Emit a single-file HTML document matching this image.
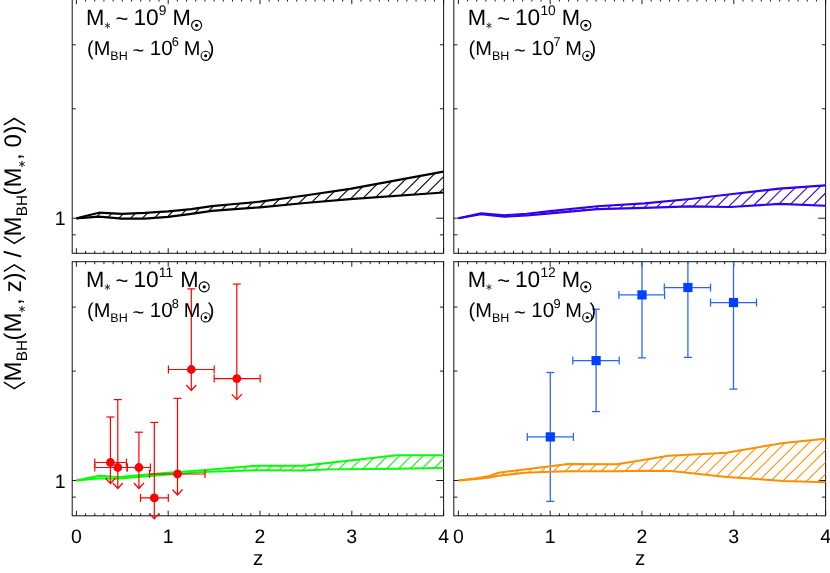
<!DOCTYPE html>
<html><head><meta charset="utf-8"><title>fig</title>
<style>html,body{margin:0;padding:0;background:#fff;width:830px;height:573px;overflow:hidden}</style></head>
<body>
<svg width="830" height="573" viewBox="0 0 830 573" style="position:absolute;left:0;top:0;will-change:transform;text-rendering:geometricPrecision">
<rect width="830" height="573" fill="#fff"/>
<g stroke="#111" stroke-width="1.0" fill="none">
<rect x="72.2" y="-0.9" width="371.4" height="254.2"/>
<path d="M76.40 253.3v-5.1M76.40 -0.9v5.1M85.58 253.3v-2.5M85.58 -0.9v2.5M94.76 253.3v-2.5M94.76 -0.9v2.5M103.94 253.3v-2.5M103.94 -0.9v2.5M113.12 253.3v-2.5M113.12 -0.9v2.5M122.30 253.3v-2.5M122.30 -0.9v2.5M131.48 253.3v-2.5M131.48 -0.9v2.5M140.66 253.3v-2.5M140.66 -0.9v2.5M149.84 253.3v-2.5M149.84 -0.9v2.5M159.02 253.3v-2.5M159.02 -0.9v2.5M168.20 253.3v-5.1M168.20 -0.9v5.1M177.38 253.3v-2.5M177.38 -0.9v2.5M186.56 253.3v-2.5M186.56 -0.9v2.5M195.74 253.3v-2.5M195.74 -0.9v2.5M204.92 253.3v-2.5M204.92 -0.9v2.5M214.10 253.3v-2.5M214.10 -0.9v2.5M223.28 253.3v-2.5M223.28 -0.9v2.5M232.46 253.3v-2.5M232.46 -0.9v2.5M241.64 253.3v-2.5M241.64 -0.9v2.5M250.82 253.3v-2.5M250.82 -0.9v2.5M260.00 253.3v-5.1M260.00 -0.9v5.1M269.18 253.3v-2.5M269.18 -0.9v2.5M278.36 253.3v-2.5M278.36 -0.9v2.5M287.54 253.3v-2.5M287.54 -0.9v2.5M296.72 253.3v-2.5M296.72 -0.9v2.5M305.90 253.3v-2.5M305.90 -0.9v2.5M315.08 253.3v-2.5M315.08 -0.9v2.5M324.26 253.3v-2.5M324.26 -0.9v2.5M333.44 253.3v-2.5M333.44 -0.9v2.5M342.62 253.3v-2.5M342.62 -0.9v2.5M351.80 253.3v-5.1M351.80 -0.9v5.1M360.98 253.3v-2.5M360.98 -0.9v2.5M370.16 253.3v-2.5M370.16 -0.9v2.5M379.34 253.3v-2.5M379.34 -0.9v2.5M388.52 253.3v-2.5M388.52 -0.9v2.5M397.70 253.3v-2.5M397.70 -0.9v2.5M406.88 253.3v-2.5M406.88 -0.9v2.5M416.06 253.3v-2.5M416.06 -0.9v2.5M425.24 253.3v-2.5M425.24 -0.9v2.5M434.42 253.3v-2.5M434.42 -0.9v2.5M443.60 253.3v-5.1M443.60 -0.9v5.1M72.2 234.83h3.7M443.6 234.83h-3.7M72.2 218.20h7.4M443.6 218.20h-7.4M72.2 108.78h3.7M443.6 108.78h-3.7M72.2 44.77h3.7M443.6 44.77h-3.7" stroke-width="0.95"/>
<rect x="72.2" y="261.7" width="371.4" height="254.1"/>
<path d="M76.40 515.8v-5.1M76.40 261.7v5.1M85.58 515.8v-2.5M85.58 261.7v2.5M94.76 515.8v-2.5M94.76 261.7v2.5M103.94 515.8v-2.5M103.94 261.7v2.5M113.12 515.8v-2.5M113.12 261.7v2.5M122.30 515.8v-2.5M122.30 261.7v2.5M131.48 515.8v-2.5M131.48 261.7v2.5M140.66 515.8v-2.5M140.66 261.7v2.5M149.84 515.8v-2.5M149.84 261.7v2.5M159.02 515.8v-2.5M159.02 261.7v2.5M168.20 515.8v-5.1M168.20 261.7v5.1M177.38 515.8v-2.5M177.38 261.7v2.5M186.56 515.8v-2.5M186.56 261.7v2.5M195.74 515.8v-2.5M195.74 261.7v2.5M204.92 515.8v-2.5M204.92 261.7v2.5M214.10 515.8v-2.5M214.10 261.7v2.5M223.28 515.8v-2.5M223.28 261.7v2.5M232.46 515.8v-2.5M232.46 261.7v2.5M241.64 515.8v-2.5M241.64 261.7v2.5M250.82 515.8v-2.5M250.82 261.7v2.5M260.00 515.8v-5.1M260.00 261.7v5.1M269.18 515.8v-2.5M269.18 261.7v2.5M278.36 515.8v-2.5M278.36 261.7v2.5M287.54 515.8v-2.5M287.54 261.7v2.5M296.72 515.8v-2.5M296.72 261.7v2.5M305.90 515.8v-2.5M305.90 261.7v2.5M315.08 515.8v-2.5M315.08 261.7v2.5M324.26 515.8v-2.5M324.26 261.7v2.5M333.44 515.8v-2.5M333.44 261.7v2.5M342.62 515.8v-2.5M342.62 261.7v2.5M351.80 515.8v-5.1M351.80 261.7v5.1M360.98 515.8v-2.5M360.98 261.7v2.5M370.16 515.8v-2.5M370.16 261.7v2.5M379.34 515.8v-2.5M379.34 261.7v2.5M388.52 515.8v-2.5M388.52 261.7v2.5M397.70 515.8v-2.5M397.70 261.7v2.5M406.88 515.8v-2.5M406.88 261.7v2.5M416.06 515.8v-2.5M416.06 261.7v2.5M425.24 515.8v-2.5M425.24 261.7v2.5M434.42 515.8v-2.5M434.42 261.7v2.5M443.60 515.8v-5.1M443.60 261.7v5.1M72.2 497.13h3.7M443.6 497.13h-3.7M72.2 480.50h7.4M443.6 480.50h-7.4M72.2 371.08h3.7M443.6 371.08h-3.7M72.2 307.07h3.7M443.6 307.07h-3.7" stroke-width="0.95"/>
<rect x="453.8" y="-0.9" width="371.8" height="254.2"/>
<path d="M458.40 253.3v-5.1M458.40 -0.9v5.1M467.58 253.3v-2.5M467.58 -0.9v2.5M476.76 253.3v-2.5M476.76 -0.9v2.5M485.94 253.3v-2.5M485.94 -0.9v2.5M495.12 253.3v-2.5M495.12 -0.9v2.5M504.30 253.3v-2.5M504.30 -0.9v2.5M513.48 253.3v-2.5M513.48 -0.9v2.5M522.66 253.3v-2.5M522.66 -0.9v2.5M531.84 253.3v-2.5M531.84 -0.9v2.5M541.02 253.3v-2.5M541.02 -0.9v2.5M550.20 253.3v-5.1M550.20 -0.9v5.1M559.38 253.3v-2.5M559.38 -0.9v2.5M568.56 253.3v-2.5M568.56 -0.9v2.5M577.74 253.3v-2.5M577.74 -0.9v2.5M586.92 253.3v-2.5M586.92 -0.9v2.5M596.10 253.3v-2.5M596.10 -0.9v2.5M605.28 253.3v-2.5M605.28 -0.9v2.5M614.46 253.3v-2.5M614.46 -0.9v2.5M623.64 253.3v-2.5M623.64 -0.9v2.5M632.82 253.3v-2.5M632.82 -0.9v2.5M642.00 253.3v-5.1M642.00 -0.9v5.1M651.18 253.3v-2.5M651.18 -0.9v2.5M660.36 253.3v-2.5M660.36 -0.9v2.5M669.54 253.3v-2.5M669.54 -0.9v2.5M678.72 253.3v-2.5M678.72 -0.9v2.5M687.90 253.3v-2.5M687.90 -0.9v2.5M697.08 253.3v-2.5M697.08 -0.9v2.5M706.26 253.3v-2.5M706.26 -0.9v2.5M715.44 253.3v-2.5M715.44 -0.9v2.5M724.62 253.3v-2.5M724.62 -0.9v2.5M733.80 253.3v-5.1M733.80 -0.9v5.1M742.98 253.3v-2.5M742.98 -0.9v2.5M752.16 253.3v-2.5M752.16 -0.9v2.5M761.34 253.3v-2.5M761.34 -0.9v2.5M770.52 253.3v-2.5M770.52 -0.9v2.5M779.70 253.3v-2.5M779.70 -0.9v2.5M788.88 253.3v-2.5M788.88 -0.9v2.5M798.06 253.3v-2.5M798.06 -0.9v2.5M807.24 253.3v-2.5M807.24 -0.9v2.5M816.42 253.3v-2.5M816.42 -0.9v2.5M825.60 253.3v-5.1M825.60 -0.9v5.1M453.8 234.83h3.7M825.6 234.83h-3.7M453.8 218.20h7.4M825.6 218.20h-7.4M453.8 108.78h3.7M825.6 108.78h-3.7M453.8 44.77h3.7M825.6 44.77h-3.7" stroke-width="0.95"/>
<rect x="453.8" y="261.7" width="371.8" height="254.1"/>
<path d="M458.40 515.8v-5.1M458.40 261.7v5.1M467.58 515.8v-2.5M467.58 261.7v2.5M476.76 515.8v-2.5M476.76 261.7v2.5M485.94 515.8v-2.5M485.94 261.7v2.5M495.12 515.8v-2.5M495.12 261.7v2.5M504.30 515.8v-2.5M504.30 261.7v2.5M513.48 515.8v-2.5M513.48 261.7v2.5M522.66 515.8v-2.5M522.66 261.7v2.5M531.84 515.8v-2.5M531.84 261.7v2.5M541.02 515.8v-2.5M541.02 261.7v2.5M550.20 515.8v-5.1M550.20 261.7v5.1M559.38 515.8v-2.5M559.38 261.7v2.5M568.56 515.8v-2.5M568.56 261.7v2.5M577.74 515.8v-2.5M577.74 261.7v2.5M586.92 515.8v-2.5M586.92 261.7v2.5M596.10 515.8v-2.5M596.10 261.7v2.5M605.28 515.8v-2.5M605.28 261.7v2.5M614.46 515.8v-2.5M614.46 261.7v2.5M623.64 515.8v-2.5M623.64 261.7v2.5M632.82 515.8v-2.5M632.82 261.7v2.5M642.00 515.8v-5.1M642.00 261.7v5.1M651.18 515.8v-2.5M651.18 261.7v2.5M660.36 515.8v-2.5M660.36 261.7v2.5M669.54 515.8v-2.5M669.54 261.7v2.5M678.72 515.8v-2.5M678.72 261.7v2.5M687.90 515.8v-2.5M687.90 261.7v2.5M697.08 515.8v-2.5M697.08 261.7v2.5M706.26 515.8v-2.5M706.26 261.7v2.5M715.44 515.8v-2.5M715.44 261.7v2.5M724.62 515.8v-2.5M724.62 261.7v2.5M733.80 515.8v-5.1M733.80 261.7v5.1M742.98 515.8v-2.5M742.98 261.7v2.5M752.16 515.8v-2.5M752.16 261.7v2.5M761.34 515.8v-2.5M761.34 261.7v2.5M770.52 515.8v-2.5M770.52 261.7v2.5M779.70 515.8v-2.5M779.70 261.7v2.5M788.88 515.8v-2.5M788.88 261.7v2.5M798.06 515.8v-2.5M798.06 261.7v2.5M807.24 515.8v-2.5M807.24 261.7v2.5M816.42 515.8v-2.5M816.42 261.7v2.5M825.60 515.8v-5.1M825.60 261.7v5.1M453.8 497.13h3.7M825.6 497.13h-3.7M453.8 480.50h7.4M825.6 480.50h-7.4M453.8 371.08h3.7M825.6 371.08h-3.7M453.8 307.07h3.7M825.6 307.07h-3.7" stroke-width="0.95"/>
</g>
<clipPath id="cb"><polygon points="76.4,218.3 98.9,212.7 121.8,213.9 144.7,212.9 168.2,211.3 191.3,209.1 211.8,206.1 234.8,204.0 260.0,201.7 305.0,195.5 350.0,188.9 443.5,171.6 443.5,192.5 350.0,199.1 305.0,203.0 260.0,207.3 234.8,209.2 211.8,210.9 191.3,213.8 168.2,216.8 144.7,218.7 121.8,218.7 98.9,216.7 76.4,218.3"/></clipPath>
<g clip-path="url(#cb)" stroke="#000000" stroke-width="1.1" fill="none">
<line x1="-333.80" y1="600" x2="316.20" y2="-50"/>
<line x1="-322.00" y1="600" x2="328.00" y2="-50"/>
<line x1="-310.20" y1="600" x2="339.80" y2="-50"/>
<line x1="-298.40" y1="600" x2="351.60" y2="-50"/>
<line x1="-286.60" y1="600" x2="363.40" y2="-50"/>
<line x1="-274.80" y1="600" x2="375.20" y2="-50"/>
<line x1="-263.00" y1="600" x2="387.00" y2="-50"/>
<line x1="-251.20" y1="600" x2="398.80" y2="-50"/>
<line x1="-239.40" y1="600" x2="410.60" y2="-50"/>
<line x1="-227.60" y1="600" x2="422.40" y2="-50"/>
<line x1="-215.80" y1="600" x2="434.20" y2="-50"/>
<line x1="-204.00" y1="600" x2="446.00" y2="-50"/>
<line x1="-192.20" y1="600" x2="457.80" y2="-50"/>
<line x1="-180.40" y1="600" x2="469.60" y2="-50"/>
<line x1="-168.60" y1="600" x2="481.40" y2="-50"/>
<line x1="-156.80" y1="600" x2="493.20" y2="-50"/>
<line x1="-145.00" y1="600" x2="505.00" y2="-50"/>
<line x1="-133.20" y1="600" x2="516.80" y2="-50"/>
<line x1="-121.40" y1="600" x2="528.60" y2="-50"/>
<line x1="-109.60" y1="600" x2="540.40" y2="-50"/>
<line x1="-97.80" y1="600" x2="552.20" y2="-50"/>
<line x1="-86.00" y1="600" x2="564.00" y2="-50"/>
<line x1="-74.20" y1="600" x2="575.80" y2="-50"/>
<line x1="-62.40" y1="600" x2="587.60" y2="-50"/>
<line x1="-50.60" y1="600" x2="599.40" y2="-50"/>
<line x1="-38.80" y1="600" x2="611.20" y2="-50"/>
<line x1="-27.00" y1="600" x2="623.00" y2="-50"/>
<line x1="-15.20" y1="600" x2="634.80" y2="-50"/>
<line x1="-3.40" y1="600" x2="646.60" y2="-50"/>
<line x1="8.40" y1="600" x2="658.40" y2="-50"/>
<line x1="20.20" y1="600" x2="670.20" y2="-50"/>
<line x1="32.00" y1="600" x2="682.00" y2="-50"/>
<line x1="43.80" y1="600" x2="693.80" y2="-50"/>
<line x1="55.60" y1="600" x2="705.60" y2="-50"/>
<line x1="67.40" y1="600" x2="717.40" y2="-50"/>
</g>
<polyline points="76.4,218.3 98.9,212.7 121.8,213.9 144.7,212.9 168.2,211.3 191.3,209.1 211.8,206.1 234.8,204.0 260.0,201.7 305.0,195.5 350.0,188.9 443.5,171.6" fill="none" stroke="#000000" stroke-width="2.2" stroke-linejoin="round" stroke-linecap="butt"/>
<polyline points="76.4,218.3 98.9,216.7 121.8,218.7 144.7,218.7 168.2,216.8 191.3,213.8 211.8,210.9 234.8,209.2 260.0,207.3 305.0,203.0 350.0,199.1 443.5,192.5" fill="none" stroke="#000000" stroke-width="2.2" stroke-linejoin="round" stroke-linecap="butt"/>
<clipPath id="cv"><polygon points="458.4,218.3 481.1,213.4 504.3,215.2 527.0,213.7 550.0,211.1 597.2,206.3 644.4,203.4 690.0,199.0 730.6,194.3 779.4,188.6 825.5,185.4 825.5,205.7 779.4,203.9 730.6,207.0 690.0,206.4 644.4,207.9 597.2,209.1 550.0,213.4 527.0,215.5 504.3,216.7 481.1,214.3 458.4,218.3"/></clipPath>
<g clip-path="url(#cv)" stroke="#3000f0" stroke-width="1.1" fill="none">
<line x1="49.70" y1="600" x2="699.70" y2="-50"/>
<line x1="61.60" y1="600" x2="711.60" y2="-50"/>
<line x1="73.50" y1="600" x2="723.50" y2="-50"/>
<line x1="85.40" y1="600" x2="735.40" y2="-50"/>
<line x1="97.30" y1="600" x2="747.30" y2="-50"/>
<line x1="109.20" y1="600" x2="759.20" y2="-50"/>
<line x1="121.10" y1="600" x2="771.10" y2="-50"/>
<line x1="133.00" y1="600" x2="783.00" y2="-50"/>
<line x1="144.90" y1="600" x2="794.90" y2="-50"/>
<line x1="156.80" y1="600" x2="806.80" y2="-50"/>
<line x1="168.70" y1="600" x2="818.70" y2="-50"/>
<line x1="180.60" y1="600" x2="830.60" y2="-50"/>
<line x1="192.50" y1="600" x2="842.50" y2="-50"/>
<line x1="204.40" y1="600" x2="854.40" y2="-50"/>
<line x1="216.30" y1="600" x2="866.30" y2="-50"/>
<line x1="228.20" y1="600" x2="878.20" y2="-50"/>
<line x1="240.10" y1="600" x2="890.10" y2="-50"/>
<line x1="252.00" y1="600" x2="902.00" y2="-50"/>
<line x1="263.90" y1="600" x2="913.90" y2="-50"/>
<line x1="275.80" y1="600" x2="925.80" y2="-50"/>
<line x1="287.70" y1="600" x2="937.70" y2="-50"/>
<line x1="299.60" y1="600" x2="949.60" y2="-50"/>
<line x1="311.50" y1="600" x2="961.50" y2="-50"/>
<line x1="323.40" y1="600" x2="973.40" y2="-50"/>
<line x1="335.30" y1="600" x2="985.30" y2="-50"/>
<line x1="347.20" y1="600" x2="997.20" y2="-50"/>
<line x1="359.10" y1="600" x2="1009.10" y2="-50"/>
<line x1="371.00" y1="600" x2="1021.00" y2="-50"/>
<line x1="382.90" y1="600" x2="1032.90" y2="-50"/>
<line x1="394.80" y1="600" x2="1044.80" y2="-50"/>
<line x1="406.70" y1="600" x2="1056.70" y2="-50"/>
<line x1="418.60" y1="600" x2="1068.60" y2="-50"/>
<line x1="430.50" y1="600" x2="1080.50" y2="-50"/>
<line x1="442.40" y1="600" x2="1092.40" y2="-50"/>
<line x1="454.30" y1="600" x2="1104.30" y2="-50"/>
</g>
<polyline points="458.4,218.3 481.1,213.4 504.3,215.2 527.0,213.7 550.0,211.1 597.2,206.3 644.4,203.4 690.0,199.0 730.6,194.3 779.4,188.6 825.5,185.4" fill="none" stroke="#3000f0" stroke-width="2.1" stroke-linejoin="round" stroke-linecap="butt"/>
<polyline points="458.4,218.3 481.1,214.3 504.3,216.7 527.0,215.5 550.0,213.4 597.2,209.1 644.4,207.9 690.0,206.4 730.6,207.0 779.4,203.9 825.5,205.7" fill="none" stroke="#3000f0" stroke-width="2.1" stroke-linejoin="round" stroke-linecap="butt"/>
<clipPath id="cg"><polygon points="76.4,480.5 99.4,475.8 116.0,476.9 122.0,476.6 168.0,472.8 200.0,470.4 256.4,465.8 303.4,465.8 330.0,462.7 396.7,455.2 443.7,455.2 443.7,467.9 396.7,468.7 330.0,469.4 303.4,470.5 256.4,470.2 200.0,472.1 168.0,474.5 122.0,478.3 116.0,478.7 99.4,478.4 76.4,480.5"/></clipPath>
<g clip-path="url(#cg)" stroke="#00ff00" stroke-width="1.05" fill="none">
<line x1="-63.30" y1="600" x2="586.70" y2="-50"/>
<line x1="-51.50" y1="600" x2="598.50" y2="-50"/>
<line x1="-39.70" y1="600" x2="610.30" y2="-50"/>
<line x1="-27.90" y1="600" x2="622.10" y2="-50"/>
<line x1="-16.10" y1="600" x2="633.90" y2="-50"/>
<line x1="-4.30" y1="600" x2="645.70" y2="-50"/>
<line x1="7.50" y1="600" x2="657.50" y2="-50"/>
<line x1="19.30" y1="600" x2="669.30" y2="-50"/>
<line x1="31.10" y1="600" x2="681.10" y2="-50"/>
<line x1="42.90" y1="600" x2="692.90" y2="-50"/>
<line x1="54.70" y1="600" x2="704.70" y2="-50"/>
<line x1="66.50" y1="600" x2="716.50" y2="-50"/>
<line x1="78.30" y1="600" x2="728.30" y2="-50"/>
<line x1="90.10" y1="600" x2="740.10" y2="-50"/>
<line x1="101.90" y1="600" x2="751.90" y2="-50"/>
<line x1="113.70" y1="600" x2="763.70" y2="-50"/>
<line x1="125.50" y1="600" x2="775.50" y2="-50"/>
<line x1="137.30" y1="600" x2="787.30" y2="-50"/>
<line x1="149.10" y1="600" x2="799.10" y2="-50"/>
<line x1="160.90" y1="600" x2="810.90" y2="-50"/>
<line x1="172.70" y1="600" x2="822.70" y2="-50"/>
<line x1="184.50" y1="600" x2="834.50" y2="-50"/>
<line x1="196.30" y1="600" x2="846.30" y2="-50"/>
<line x1="208.10" y1="600" x2="858.10" y2="-50"/>
<line x1="219.90" y1="600" x2="869.90" y2="-50"/>
<line x1="231.70" y1="600" x2="881.70" y2="-50"/>
<line x1="243.50" y1="600" x2="893.50" y2="-50"/>
<line x1="255.30" y1="600" x2="905.30" y2="-50"/>
<line x1="267.10" y1="600" x2="917.10" y2="-50"/>
<line x1="278.90" y1="600" x2="928.90" y2="-50"/>
<line x1="290.70" y1="600" x2="940.70" y2="-50"/>
<line x1="302.50" y1="600" x2="952.50" y2="-50"/>
<line x1="314.30" y1="600" x2="964.30" y2="-50"/>
<line x1="326.10" y1="600" x2="976.10" y2="-50"/>
<line x1="337.90" y1="600" x2="987.90" y2="-50"/>
</g>
<polyline points="76.4,480.5 99.4,475.8 116.0,476.9 122.0,476.6 168.0,472.8 200.0,470.4 256.4,465.8 303.4,465.8 330.0,462.7 396.7,455.2 443.7,455.2" fill="none" stroke="#00ff00" stroke-width="1.95" stroke-linejoin="round" stroke-linecap="butt"/>
<polyline points="76.4,480.5 99.4,478.4 116.0,478.7 122.0,478.3 168.0,474.5 200.0,472.1 256.4,470.2 303.4,470.5 330.0,469.4 396.7,468.7 443.7,467.9" fill="none" stroke="#00ff00" stroke-width="1.95" stroke-linejoin="round" stroke-linecap="butt"/>
<g stroke="#ff0000" stroke-width="1.2" fill="none">
<path d="M94.8 462.5H126.4M94.8 458.5V466.5M126.4 458.5V466.5"/>
<path d="M110.4 462.5V417.0"/>
<path d="M106.4 417.0H114.4"/>
<path d="M110.4 462.5V483.5M105.4 478.0L110.4 483.5L115.4 478.0"/>
<path d="M94.8 467.5H127.2M94.8 463.5V471.5M127.2 463.5V471.5"/>
<path d="M117.8 467.5V399.6"/>
<path d="M113.8 399.6H121.8"/>
<path d="M117.8 467.5V488.5M112.8 483.0L117.8 488.5L122.8 483.0"/>
<path d="M127.2 467.5H150.4M127.2 463.5V471.5M150.4 463.5V471.5"/>
<path d="M138.9 467.5V432.2"/>
<path d="M134.9 432.2H142.9"/>
<path d="M138.9 467.5V488.5M133.9 483.0L138.9 488.5L143.9 483.0"/>
<path d="M140.5 497.9H168.3M140.5 493.9V501.9M168.3 493.9V501.9"/>
<path d="M154.3 497.9V422.4"/>
<path d="M150.3 422.4H158.3"/>
<path d="M154.3 497.9V518.9M149.3 513.4L154.3 518.9L159.3 513.4"/>
<path d="M149.5 474.0H205.0M149.5 470.0V478.0M205.0 470.0V478.0"/>
<path d="M177.5 474.0V398.3"/>
<path d="M173.5 398.3H181.5"/>
<path d="M177.5 474.0V495.0M172.5 489.5L177.5 495.0L182.5 489.5"/>
<path d="M168.4 369.5H214.2M168.4 365.5V373.5M214.2 365.5V373.5"/>
<path d="M191.3 369.5V288.9"/>
<path d="M187.3 288.9H195.3"/>
<path d="M191.3 369.5V390.5M186.3 385.0L191.3 390.5L196.3 385.0"/>
<path d="M214.2 378.6H260.2M214.2 374.6V382.6M260.2 374.6V382.6"/>
<path d="M236.8 378.6V284.1"/>
<path d="M232.8 284.1H240.8"/>
<path d="M236.8 378.6V399.6M231.8 394.1L236.8 399.6L241.8 394.1"/>
</g>
<circle cx="110.4" cy="462.5" r="4.4" fill="#ff0000"/>
<circle cx="117.8" cy="467.5" r="4.4" fill="#ff0000"/>
<circle cx="138.9" cy="467.5" r="4.4" fill="#ff0000"/>
<circle cx="154.3" cy="497.9" r="4.4" fill="#ff0000"/>
<circle cx="177.5" cy="474.0" r="4.4" fill="#ff0000"/>
<circle cx="191.3" cy="369.5" r="4.4" fill="#ff0000"/>
<circle cx="236.8" cy="378.6" r="4.4" fill="#ff0000"/>
<g stroke="#2a62ff" stroke-width="1.25" fill="none">
<path d="M527.3 436.9H573.4M527.3 432.9V440.9M573.4 432.9V440.9"/>
<path d="M550.3 436.9V372.5"/>
<path d="M546.3 372.5H554.3"/>
<path d="M550.3 436.9V501.4M546.3 501.4H554.3"/>
<path d="M572.8 360.6H619.2M572.8 356.6V364.6M619.2 356.6V364.6"/>
<path d="M596.1 360.6V309.2"/>
<path d="M592.1 309.2H600.1"/>
<path d="M596.1 360.6V411.6M592.1 411.6H600.1"/>
<path d="M618.9 294.9H664.6M618.9 290.9V298.9M664.6 290.9V298.9"/>
<path d="M642.0 294.9V261.7"/>
<path d="M642.0 294.9V357.8M638.0 357.8H646.0"/>
<path d="M664.3 287.5H710.5M664.3 283.5V291.5M710.5 283.5V291.5"/>
<path d="M687.9 287.5V261.7"/>
<path d="M687.9 287.5V357.4M683.9 357.4H691.9"/>
<path d="M710.5 302.5H756.5M710.5 298.5V306.5M756.5 298.5V306.5"/>
<path d="M733.5 302.5V261.7"/>
<path d="M733.5 302.5V389.1M729.5 389.1H737.5"/>
</g>
<clipPath id="co"><polygon points="458.6,480.4 476.7,478.2 489.7,476.0 498.4,472.8 524.4,469.5 550.4,466.2 567.8,464.0 617.1,464.3 640.0,460.6 668.6,455.7 726.4,452.7 783.6,442.9 825.5,438.7 825.5,482.3 783.6,480.9 726.4,477.0 671.0,471.1 640.0,470.8 617.1,471.2 567.8,471.3 550.4,471.7 524.4,472.8 498.4,475.7 489.7,477.5 476.7,478.9 458.6,480.4"/></clipPath>
<g clip-path="url(#co)" stroke="#ff8f00" stroke-width="1.05" fill="none">
<line x1="317.20" y1="600" x2="967.20" y2="-50"/>
<line x1="329.15" y1="600" x2="979.15" y2="-50"/>
<line x1="341.10" y1="600" x2="991.10" y2="-50"/>
<line x1="353.05" y1="600" x2="1003.05" y2="-50"/>
<line x1="365.00" y1="600" x2="1015.00" y2="-50"/>
<line x1="376.95" y1="600" x2="1026.95" y2="-50"/>
<line x1="388.90" y1="600" x2="1038.90" y2="-50"/>
<line x1="400.85" y1="600" x2="1050.85" y2="-50"/>
<line x1="412.80" y1="600" x2="1062.80" y2="-50"/>
<line x1="424.75" y1="600" x2="1074.75" y2="-50"/>
<line x1="436.70" y1="600" x2="1086.70" y2="-50"/>
<line x1="448.65" y1="600" x2="1098.65" y2="-50"/>
<line x1="460.60" y1="600" x2="1110.60" y2="-50"/>
<line x1="472.55" y1="600" x2="1122.55" y2="-50"/>
<line x1="484.50" y1="600" x2="1134.50" y2="-50"/>
<line x1="496.45" y1="600" x2="1146.45" y2="-50"/>
<line x1="508.40" y1="600" x2="1158.40" y2="-50"/>
<line x1="520.35" y1="600" x2="1170.35" y2="-50"/>
<line x1="532.30" y1="600" x2="1182.30" y2="-50"/>
<line x1="544.25" y1="600" x2="1194.25" y2="-50"/>
<line x1="556.20" y1="600" x2="1206.20" y2="-50"/>
<line x1="568.15" y1="600" x2="1218.15" y2="-50"/>
<line x1="580.10" y1="600" x2="1230.10" y2="-50"/>
<line x1="592.05" y1="600" x2="1242.05" y2="-50"/>
<line x1="604.00" y1="600" x2="1254.00" y2="-50"/>
<line x1="615.95" y1="600" x2="1265.95" y2="-50"/>
<line x1="627.90" y1="600" x2="1277.90" y2="-50"/>
<line x1="639.85" y1="600" x2="1289.85" y2="-50"/>
<line x1="651.80" y1="600" x2="1301.80" y2="-50"/>
<line x1="663.75" y1="600" x2="1313.75" y2="-50"/>
<line x1="675.70" y1="600" x2="1325.70" y2="-50"/>
<line x1="687.65" y1="600" x2="1337.65" y2="-50"/>
<line x1="699.60" y1="600" x2="1349.60" y2="-50"/>
<line x1="711.55" y1="600" x2="1361.55" y2="-50"/>
<line x1="723.50" y1="600" x2="1373.50" y2="-50"/>
<line x1="735.45" y1="600" x2="1385.45" y2="-50"/>
</g>
<polyline points="458.6,480.4 476.7,478.2 489.7,476.0 498.4,472.8 524.4,469.5 550.4,466.2 567.8,464.0 617.1,464.3 640.0,460.6 668.6,455.7 726.4,452.7 783.6,442.9 825.5,438.7" fill="none" stroke="#ff8f00" stroke-width="2.0" stroke-linejoin="round" stroke-linecap="butt"/>
<polyline points="458.6,480.4 476.7,478.9 489.7,477.5 498.4,475.7 524.4,472.8 550.4,471.7 567.8,471.3 617.1,471.2 640.0,470.8 671.0,471.1 726.4,477.0 783.6,480.9 825.5,482.3" fill="none" stroke="#ff8f00" stroke-width="2.0" stroke-linejoin="round" stroke-linecap="butt"/>
<rect x="545.7" y="432.3" width="9.2" height="9.2" fill="#0040ff"/>
<rect x="591.5" y="356.0" width="9.2" height="9.2" fill="#0040ff"/>
<rect x="637.4" y="290.3" width="9.2" height="9.2" fill="#0040ff"/>
<rect x="683.3" y="282.9" width="9.2" height="9.2" fill="#0040ff"/>
<rect x="728.9" y="297.9" width="9.2" height="9.2" fill="#0040ff"/>
<g font-family="Liberation Sans, sans-serif" font-size="19.5" fill="#000" text-anchor="middle">
<text x="76.4" y="542.7">0</text>
<text x="168.2" y="542.7">1</text>
<text x="260.0" y="542.7">2</text>
<text x="351.8" y="542.7">3</text>
<text x="443.6" y="542.7">4</text>
<text x="458.4" y="542.7">0</text>
<text x="550.2" y="542.7">1</text>
<text x="642.0" y="542.7">2</text>
<text x="733.8" y="542.7">3</text>
<text x="825.6" y="542.7">4</text>
<text x="60.2" y="225.2">1</text>
<text x="60.2" y="487.5">1</text>
</g>
<g font-family="Liberation Sans, sans-serif" font-size="20.5" fill="#000" text-anchor="middle">
<text x="258.2" y="565.3">z</text><text x="640.2" y="565.3">z</text>
</g>
<g font-family="Liberation Sans, sans-serif" fill="#000">
<text x="86.1" y="25.0" font-size="22.0">M</text>
<text x="115.6" y="26.3" font-size="22.0">~</text>
<text x="133.4" y="25.0" font-size="22.7">10</text>
<text x="158.8" y="15.0" font-size="13.8">9</text>
<text x="172.6" y="25.0" font-size="22.0">M</text>
<text x="87.0" y="55.4" font-size="20.0">(M</text>
<text x="110.3" y="60.199999999999996" font-size="12.5">BH</text>
<text x="132.5" y="56.9" font-size="20.0">~</text>
<text x="149.7" y="55.4" font-size="20.6">10</text>
<text x="171.8" y="46.4" font-size="12.8">6</text>
<text x="183.7" y="55.4" font-size="20.0">M</text>
<text x="207.8" y="55.4" font-size="20.0">)</text>
</g>
<path d="M107.40 22.50L107.40 28.50M104.80 24.00L110.00 27.00M110.00 24.00L104.80 27.00" stroke="#1a1a1a" stroke-width="0.85" fill="none"/>
<circle cx="196.6" cy="25.3" r="5.0" fill="none" stroke="#000" stroke-width="1.15"/><circle cx="196.6" cy="25.3" r="1.6" fill="#000"/>
<circle cx="205.7" cy="55.8" r="4.6" fill="none" stroke="#000" stroke-width="1.1"/><circle cx="205.7" cy="55.8" r="1.5" fill="#000"/>
<g font-family="Liberation Sans, sans-serif" fill="#000">
<text x="467.7" y="25.0" font-size="22.0">M</text>
<text x="497.2" y="26.3" font-size="22.0">~</text>
<text x="515.0" y="25.0" font-size="22.7">10</text>
<text x="540.4" y="15.0" font-size="13.8">10</text>
<text x="561.8" y="25.0" font-size="22.0">M</text>
<text x="468.6" y="55.4" font-size="20.0">(M</text>
<text x="491.9" y="60.199999999999996" font-size="12.5">BH</text>
<text x="514.1" y="56.9" font-size="20.0">~</text>
<text x="531.3" y="55.4" font-size="20.6">10</text>
<text x="553.4" y="46.4" font-size="12.8">7</text>
<text x="565.3" y="55.4" font-size="20.0">M</text>
<text x="589.4" y="55.4" font-size="20.0">)</text>
</g>
<path d="M489.00 22.50L489.00 28.50M486.40 24.00L491.60 27.00M491.60 24.00L486.40 27.00" stroke="#1a1a1a" stroke-width="0.85" fill="none"/>
<circle cx="585.8" cy="25.3" r="5.0" fill="none" stroke="#000" stroke-width="1.15"/><circle cx="585.8" cy="25.3" r="1.6" fill="#000"/>
<circle cx="587.3" cy="55.8" r="4.6" fill="none" stroke="#000" stroke-width="1.1"/><circle cx="587.3" cy="55.8" r="1.5" fill="#000"/>
<g font-family="Liberation Sans, sans-serif" fill="#000">
<text x="86.1" y="286.6" font-size="22.0">M</text>
<text x="115.6" y="287.90000000000003" font-size="22.0">~</text>
<text x="133.4" y="286.6" font-size="22.7">10</text>
<text x="158.8" y="276.6" font-size="13.8">11</text>
<text x="180.2" y="286.6" font-size="22.0">M</text>
<text x="87.0" y="317.0" font-size="20.0">(M</text>
<text x="110.3" y="321.8" font-size="12.5">BH</text>
<text x="132.5" y="318.5" font-size="20.0">~</text>
<text x="149.7" y="317.0" font-size="20.6">10</text>
<text x="171.8" y="308.0" font-size="12.8">8</text>
<text x="183.7" y="317.0" font-size="20.0">M</text>
<text x="207.8" y="317.0" font-size="20.0">)</text>
</g>
<path d="M107.40 284.10L107.40 290.10M104.80 285.60L110.00 288.60M110.00 285.60L104.80 288.60" stroke="#1a1a1a" stroke-width="0.85" fill="none"/>
<circle cx="204.2" cy="286.9" r="5.0" fill="none" stroke="#000" stroke-width="1.15"/><circle cx="204.2" cy="286.9" r="1.6" fill="#000"/>
<circle cx="205.7" cy="317.4" r="4.6" fill="none" stroke="#000" stroke-width="1.1"/><circle cx="205.7" cy="317.4" r="1.5" fill="#000"/>
<g font-family="Liberation Sans, sans-serif" fill="#000">
<text x="467.7" y="286.6" font-size="22.0">M</text>
<text x="497.2" y="287.90000000000003" font-size="22.0">~</text>
<text x="515.0" y="286.6" font-size="22.7">10</text>
<text x="540.4" y="276.6" font-size="13.8">12</text>
<text x="561.8" y="286.6" font-size="22.0">M</text>
<text x="468.6" y="317.0" font-size="20.0">(M</text>
<text x="491.9" y="321.8" font-size="12.5">BH</text>
<text x="514.1" y="318.5" font-size="20.0">~</text>
<text x="531.3" y="317.0" font-size="20.6">10</text>
<text x="553.4" y="308.0" font-size="12.8">9</text>
<text x="565.3" y="317.0" font-size="20.0">M</text>
<text x="589.4" y="317.0" font-size="20.0">)</text>
</g>
<path d="M489.00 284.10L489.00 290.10M486.40 285.60L491.60 288.60M491.60 285.60L486.40 288.60" stroke="#1a1a1a" stroke-width="0.85" fill="none"/>
<circle cx="585.8" cy="286.9" r="5.0" fill="none" stroke="#000" stroke-width="1.15"/><circle cx="585.8" cy="286.9" r="1.6" fill="#000"/>
<circle cx="587.3" cy="317.4" r="4.6" fill="none" stroke="#000" stroke-width="1.1"/><circle cx="587.3" cy="317.4" r="1.5" fill="#000"/>
<path d="M3.8 382.2L14.3 388.6L24.9 382.2" fill="none" stroke="#000" stroke-width="1.5" stroke-linejoin="miter"/>
<text transform="translate(21.4,381.4) rotate(-90)" font-family="Liberation Sans, sans-serif" font-size="24" fill="#000">M</text>
<text transform="translate(27.2,361.2) rotate(-90)" font-family="Liberation Sans, sans-serif" font-size="15.3" fill="#000">BH</text>
<text transform="translate(21.4,340.6) rotate(-90)" font-family="Liberation Sans, sans-serif" font-size="24" fill="#000">(M</text>
<path d="M22.00 305.80L22.00 312.20M19.23 307.40L24.77 310.60M24.77 307.40L19.23 310.60" stroke="#1a1a1a" stroke-width="1.0" fill="none"/>
<text transform="translate(21.4,305.0) rotate(-90)" font-family="Liberation Sans, sans-serif" font-size="24" fill="#000">,</text>
<text transform="translate(21.4,292.2) rotate(-90)" font-family="Liberation Sans, sans-serif" font-size="24" fill="#000">z</text>
<text transform="translate(21.4,280.6) rotate(-90)" font-family="Liberation Sans, sans-serif" font-size="24" fill="#000">)</text>
<path d="M3.8 271.4L14.3 264.9L24.9 271.4" fill="none" stroke="#000" stroke-width="1.5" stroke-linejoin="miter"/>
<text transform="translate(21.4,257.6) rotate(-90)" font-family="Liberation Sans, sans-serif" font-size="24" fill="#000">/</text>
<path d="M3.8 236.8L14.3 243.4L24.9 236.8" fill="none" stroke="#000" stroke-width="1.5" stroke-linejoin="miter"/>
<text transform="translate(21.4,236.6) rotate(-90)" font-family="Liberation Sans, sans-serif" font-size="24" fill="#000">M</text>
<text transform="translate(27.2,216.2) rotate(-90)" font-family="Liberation Sans, sans-serif" font-size="15.3" fill="#000">BH</text>
<text transform="translate(21.4,195.6) rotate(-90)" font-family="Liberation Sans, sans-serif" font-size="24" fill="#000">(M</text>
<path d="M22.00 160.80L22.00 167.20M19.23 162.40L24.77 165.60M24.77 162.40L19.23 165.60" stroke="#1a1a1a" stroke-width="1.0" fill="none"/>
<text transform="translate(21.4,160.0) rotate(-90)" font-family="Liberation Sans, sans-serif" font-size="24" fill="#000">,</text>
<text transform="translate(21.4,147.4) rotate(-90)" font-family="Liberation Sans, sans-serif" font-size="24" fill="#000">0</text>
<text transform="translate(21.4,133.4) rotate(-90)" font-family="Liberation Sans, sans-serif" font-size="24" fill="#000">)</text>
<path d="M3.8 124.9L14.3 118.5L24.9 124.9" fill="none" stroke="#000" stroke-width="1.5" stroke-linejoin="miter"/>
</svg>
</body></html>
